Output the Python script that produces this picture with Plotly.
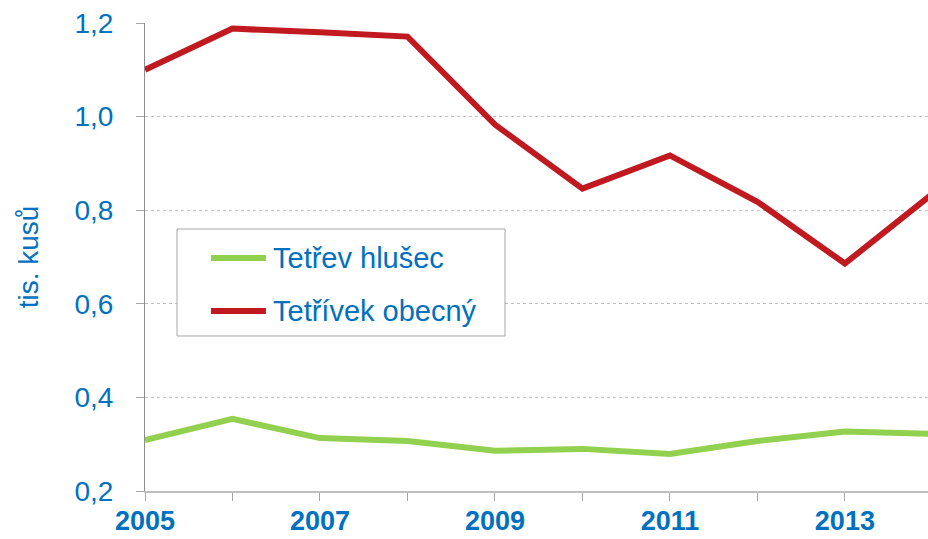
import plotly.graph_objects as go

years = [2005, 2006, 2007, 2008, 2009, 2010, 2011, 2012, 2013, 2014]
tetrev_hlusec = [0.309, 0.354, 0.313, 0.307, 0.286, 0.290, 0.279, 0.307, 0.327, 0.322]
tetrivek_obecny = [1.100, 1.188, 1.180, 1.171, 0.983, 0.846, 0.917, 0.818, 0.686, 0.835]
x_tick_years = [2005, 2007, 2009, 2011, 2013]
y_ticks = [0.2, 0.4, 0.6, 0.8, 1.0, 1.2]
y_tick_labels = ["0,2", "0,4", "0,6", "0,8", "1,0", "1,2"]
series_names = ["Tetřev hlušec", "Tetřívek obecný"]

BLUE = "#0070C0"
GREEN = "#92D050"
RED = "#C0191F"
FONT = "Liberation Sans, Arial, sans-serif"
colors = [GREEN, RED]

fig = go.Figure()
for name, values, color in zip(series_names, [tetrev_hlusec, tetrivek_obecny], colors):
    fig.add_trace(go.Scatter(
        x=years, y=values, mode="lines", name=name,
        line=dict(color=color, width=6), showlegend=False,
    ))

# framed key inside the plot area (paper coordinates of the plot domain)
box_x0, box_x1, box_y0, box_y1 = 0.0409, 0.4598, 0.3312, 0.5598
fig.add_shape(type="rect", xref="paper", yref="paper",
              x0=box_x0, x1=box_x1, y0=box_y0, y1=box_y1,
              line=dict(color="#A6A6A6", width=1), fillcolor="white", layer="above")
key_rows = [0.4979, 0.3846]
for name, color, ky in zip(series_names, colors, key_rows):
    fig.add_shape(type="line", xref="paper", yref="paper",
                  x0=0.0843, x1=0.1545, y0=ky, y1=ky,
                  line=dict(color=color, width=6), layer="above")
    fig.add_annotation(xref="paper", yref="paper", x=0.1609, y=ky,
                       xanchor="left", yanchor="middle", showarrow=False,
                       text=name, font=dict(size=29, color=BLUE, family=FONT))

fig.update_layout(
    width=928, height=539,
    margin=dict(l=145, r=0, t=23, b=48),
    paper_bgcolor="white", plot_bgcolor="white",
    font=dict(family=FONT, color=BLUE),
    showlegend=False,
    xaxis=dict(
        range=[2005, 2013.95],
        automargin=False,
        tickvals=x_tick_years, ticktext=[str(y) for y in x_tick_years],
        tickfont=dict(size=27, color=BLUE, family=FONT, weight="bold"),
        showgrid=False, zeroline=False,
        showline=True, linecolor="#BFBFBF", linewidth=2,
        ticks="outside", ticklen=8, tickcolor="#A6A6A6", tickwidth=1,
        ticklabelstandoff=-3,
        minor=dict(dtick=1, tick0=2005, ticks="outside", ticklen=8,
                   tickcolor="#A6A6A6", tickwidth=1, showgrid=False),
    ),
    yaxis=dict(
        range=[0.2, 1.2],
        automargin=False,
        tickvals=y_ticks, ticktext=y_tick_labels,
        tickfont=dict(size=28, color=BLUE, family=FONT),
        showgrid=True, gridcolor="#BFBFBF", griddash="dot", gridwidth=1,
        zeroline=False,
        showline=True, linecolor="#8C8C8C", linewidth=1,
        ticks="outside", ticklen=8, tickcolor="#A6A6A6", tickwidth=1,
        ticklabelstandoff=17,
        title=dict(text="tis. kusů", font=dict(size=28, color=BLUE, family=FONT),
                   standoff=27),
    ),
)

fig.write_html("out.html")
